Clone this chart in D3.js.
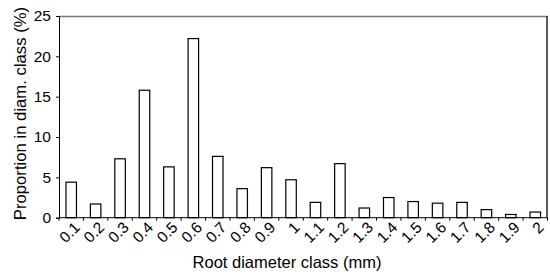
<!DOCTYPE html>
<html>
<head>
<meta charset="utf-8">
<script src="https://cdn.jsdelivr.net/npm/d3@7"></script>
<style>
  body { margin: 0; background: #fff; }
  text { font-family: "Liberation Sans", Arial, sans-serif; }
</style>
</head>
<body>
<div id="chart"></div>
<script>
// root diameter classes (mm)
var classes = ["0.1", "0.2", "0.3", "0.4", "0.5", "0.6", "0.7", "0.8", "0.9", "1",
               "1.1", "1.2", "1.3", "1.4", "1.5", "1.6", "1.7", "1.8", "1.9", "2"];
// proportion in each class (%)
var proportions = [4.4, 1.7, 7.3, 15.8, 6.3, 22.2, 7.6, 3.6, 6.2, 4.7,
                   1.9, 6.7, 1.2, 2.5, 2.0, 1.8, 1.9, 1.0, 0.4, 0.7];
var yTicks = [0, 5, 10, 15, 20, 25];

var w = 550, h = 274;
var margin = {top: 16, right: 2.5, bottom: 56.3, left: 59};
var iw = w - margin.left - margin.right,
    ih = h - margin.top - margin.bottom;

var svg = d3.select("#chart").append("svg")
    .attr("width", w)
    .attr("height", h);

var g = svg.append("g")
    .attr("transform", "translate(" + margin.left + "," + margin.top + ")");

var x = d3.scaleBand()
    .domain(classes)
    .range([0, iw])
    .paddingInner(0.57)
    .paddingOuter(0.285);

var y = d3.scaleLinear()
    .domain([0, 25])
    .range([ih, 0]);

// frame: top grey, right dark
g.append("line")
    .attr("x1", 0).attr("x2", iw)
    .attr("y1", 0.5).attr("y2", 0.5)
    .attr("stroke", "#777").attr("stroke-width", 1.5);
g.append("line")
    .attr("x1", iw - 0.5).attr("x2", iw - 0.5)
    .attr("y1", 0).attr("y2", ih)
    .attr("stroke", "#222").attr("stroke-width", 1.5);

// bars
g.selectAll(".bar")
    .data(proportions)
    .enter().append("rect")
    .attr("class", "bar")
    .attr("x", function(d, i) { return x(classes[i]); })
    .attr("width", x.bandwidth())
    .attr("y", function(d) { return y(d); })
    .attr("height", function(d) { return ih - y(d); })
    .attr("fill", "#fff")
    .attr("stroke", "#000")
    .attr("stroke-width", 1.2);

// y axis
var yAxis = g.append("g")
    .call(d3.axisLeft(y).tickValues(yTicks).tickSize(3).tickPadding(5));
yAxis.selectAll("text").style("font-size", "15.5px").attr("fill", "#000");
yAxis.select(".domain").attr("stroke", "#000");

// x axis: ticks at band boundaries
var step = x.step();
var bounds = d3.range(classes.length + 1);
var xAxis = g.append("g")
    .attr("transform", "translate(0," + ih + ")");
xAxis.append("line")
    .attr("x1", 0).attr("x2", iw)
    .attr("stroke", "#000");
xAxis.selectAll(".tick")
    .data(bounds)
    .enter().append("line")
    .attr("class", "tick")
    .attr("x1", function(d) { return d * step; })
    .attr("x2", function(d) { return d * step; })
    .attr("y1", 0).attr("y2", 3)
    .attr("stroke", "#000");

xAxis.selectAll(".lbl")
    .data(classes)
    .enter().append("text")
    .attr("class", "lbl")
    .attr("text-anchor", "end")
    .attr("transform", function(d) {
        return "translate(" + (x(d) + x.bandwidth() / 2 + 2) + ",3) rotate(-45)";
    })
    .attr("dy", "0.7em")
    .style("font-size", "15.5px")
    .text(function(d) { return d; });

// axis titles
svg.append("text")
    .attr("x", 287)
    .attr("y", 268)
    .attr("text-anchor", "middle")
    .style("font-size", "16.5px")
    .text("Root diameter class (mm)");

svg.append("text")
    .attr("transform", "translate(20," + 113.5 + ") rotate(-90)")
    .attr("text-anchor", "middle")
    .attr("dy", "0.35em")
    .style("font-size", "16.7px")
    .text("Proportion in diam. class (%)");
</script>
</body>
</html>
